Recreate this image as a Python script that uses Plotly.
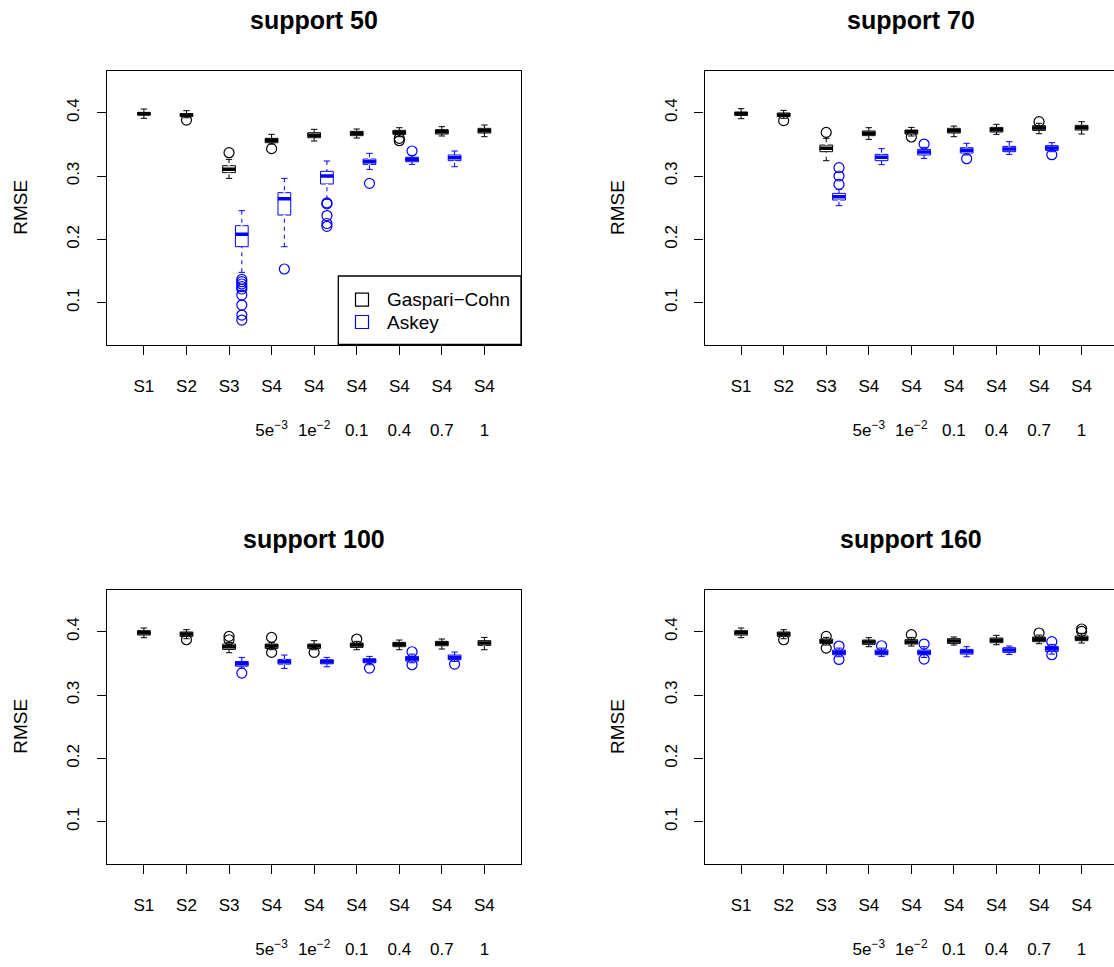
import plotly.graph_objects as go

W, H = 1114, 967

# ---------------- data ----------------
CATEGORIES = ["S1", "S2", "S3", "S4", "S4", "S4", "S4", "S4", "S4"]
SUB_LABELS = ["", "", "", "5e<sup>−3</sup>", "1e<sup>−2</sup>", "0.1", "0.4", "0.7", "1"]
GC_POS = [1, 2, 3, 4, 5, 6, 7, 8, 9]
ASKEY_POS = [3.3, 4.3, 5.3, 6.3, 7.3, 8.3]
Y_TICKS = [0.1, 0.2, 0.3, 0.4]
PANEL_TITLES = ["support 50", "support 70", "support 100", "support 160"]
LEGEND_LABELS = ["Gaspari−Cohn", "Askey"]

# support 50
GC50_LO = [0.3911, 0.3920, 0.2963, 0.3505, 0.3553, 0.3600, 0.3621, 0.3632, 0.3621]
GC50_Q1 = [0.3963, 0.3942, 0.3053, 0.3526, 0.3605, 0.3637, 0.3658, 0.3663, 0.3679]
GC50_MED = [0.3984, 0.3963, 0.3105, 0.3563, 0.3642, 0.3674, 0.3689, 0.3700, 0.3716]
GC50_Q3 = [0.4005, 0.3984, 0.3163, 0.3595, 0.3684, 0.3705, 0.3721, 0.3732, 0.3753]
GC50_HI = [0.4058, 0.4032, 0.3263, 0.3658, 0.3737, 0.3742, 0.3763, 0.3779, 0.3805]
GC50_OUT = [[], [0.3884], [0.3368], [0.3432], [], [], [0.3595, 0.3558], [], []]
AK50_LO = [0.1479, 0.1884, 0.2635, 0.3105, 0.3184, 0.3147]
AK50_Q1 = [0.1884, 0.2384, 0.2874, 0.3184, 0.3226, 0.3242]
AK50_MED = [0.2079, 0.2642, 0.3000, 0.3226, 0.3263, 0.3289]
AK50_Q3 = [0.2216, 0.2737, 0.3074, 0.3268, 0.3295, 0.3332]
AK50_HI = [0.2453, 0.2963, 0.3237, 0.3358, 0.3326, 0.3395]
AK50_OUT = [[0.1368, 0.1332, 0.1295, 0.1253, 0.1216, 0.1121, 0.0963, 0.0805, 0.0726],
            [0.1532], [0.2576, 0.2560, 0.2376, 0.2250, 0.2206], [0.2884], [0.3395], []]

# support 70
GC70_LO = [0.3905, 0.3911, 0.3242, 0.3579, 0.3632, 0.3621, 0.3658, 0.3668, 0.3663]
GC70_Q1 = [0.3958, 0.3937, 0.3384, 0.3637, 0.3663, 0.3679, 0.3695, 0.3721, 0.3726]
GC70_MED = [0.3984, 0.3963, 0.3437, 0.3674, 0.3700, 0.3716, 0.3732, 0.3758, 0.3763]
GC70_Q3 = [0.4011, 0.3995, 0.3489, 0.3711, 0.3726, 0.3753, 0.3768, 0.3795, 0.3800]
GC70_HI = [0.4063, 0.4037, 0.3595, 0.3763, 0.3768, 0.3789, 0.3816, 0.3832, 0.3858]
GC70_OUT = [[], [0.3874], [0.3689], [], [0.3616], [], [], [0.3858], []]
AK70_LO = [0.2532, 0.3179, 0.3279, 0.3332, 0.3342, 0.3384]
AK70_Q1 = [0.2621, 0.3242, 0.3332, 0.3363, 0.3384, 0.3405]
AK70_MED = [0.2674, 0.3295, 0.3379, 0.3405, 0.3426, 0.3442]
AK70_Q3 = [0.2726, 0.3342, 0.3421, 0.3447, 0.3468, 0.3479]
AK70_HI = [0.2789, 0.3432, 0.3453, 0.3516, 0.3542, 0.3526]
AK70_OUT = [[0.3132, 0.3000, 0.2868], [], [0.3505], [0.3274], [], [0.3337]]

# support 100
GC100_LO = [0.3905, 0.3889, 0.3668, 0.3715, 0.3715, 0.3715, 0.3715, 0.3726, 0.3715]
GC100_Q1 = [0.3947, 0.3926, 0.3720, 0.3736, 0.3736, 0.3752, 0.3763, 0.3778, 0.3784]
GC100_MED = [0.3984, 0.3963, 0.3763, 0.3773, 0.3773, 0.3789, 0.3800, 0.3815, 0.3821]
GC100_Q3 = [0.4016, 0.3995, 0.3805, 0.3805, 0.3805, 0.3821, 0.3831, 0.3847, 0.3858]
GC100_HI = [0.4058, 0.4032, 0.3831, 0.3831, 0.3858, 0.3847, 0.3868, 0.3884, 0.3910]
GC100_OUT = [[], [0.3873], [0.3926, 0.3873], [0.3910, 0.3673], [0.3673], [0.3884], [], [], []]
AK100_LO = [0.3425, 0.3420, 0.3446, 0.3478, 0.3509, 0.3530]
AK100_Q1 = [0.3456, 0.3488, 0.3493, 0.3509, 0.3536, 0.3557]
AK100_MED = [0.3493, 0.3525, 0.3525, 0.3541, 0.3573, 0.3594]
AK100_Q3 = [0.3530, 0.3562, 0.3557, 0.3573, 0.3610, 0.3631]
AK100_HI = [0.3594, 0.3631, 0.3594, 0.3610, 0.3646, 0.3678]
AK100_OUT = [[0.3346], [], [], [0.3425], [0.3683, 0.3478], [0.3488]]

# support 160
GC160_LO = [0.3905, 0.3889, 0.3789, 0.3763, 0.3773, 0.3789, 0.3794, 0.3810, 0.3821]
GC160_Q1 = [0.3947, 0.3926, 0.3815, 0.3800, 0.3805, 0.3815, 0.3826, 0.3842, 0.3858]
GC160_MED = [0.3984, 0.3963, 0.3847, 0.3836, 0.3836, 0.3852, 0.3863, 0.3879, 0.3894]
GC160_Q3 = [0.4016, 0.3995, 0.3884, 0.3868, 0.3873, 0.3889, 0.3900, 0.3916, 0.3931]
GC160_HI = [0.4058, 0.4032, 0.3910, 0.3905, 0.3910, 0.3916, 0.3942, 0.3947, 0.3974]
GC160_OUT = [[], [0.3873], [0.3926, 0.3741], [], [0.3953], [], [], [0.3979], [0.4042, 0.4005]]
AK160_LO = [0.3604, 0.3610, 0.3594, 0.3604, 0.3641, 0.3646]
AK160_Q1 = [0.3636, 0.3636, 0.3636, 0.3646, 0.3673, 0.3689]
AK160_MED = [0.3673, 0.3673, 0.3673, 0.3683, 0.3710, 0.3731]
AK160_Q3 = [0.3710, 0.3710, 0.3710, 0.3720, 0.3747, 0.3768]
AK160_HI = [0.3741, 0.3741, 0.3763, 0.3763, 0.3773, 0.3800]
AK160_OUT = [[0.3773, 0.3562], [0.3778], [0.3805, 0.3567], [], [], [0.3842, 0.3636]]

# ---------------- layout helpers ----------------
FONT = "Liberation Sans, Arial, Helvetica, sans-serif"
BLACK = "#000000"
BLUE = "#0000FF"
BOX_W = 0.3
X_RANGE_LO = 0.14
PPU = (521.0 - 107.3) / (9.86 - 0.14)  # pixels per x unit
Y_RANGE = [0.034, 0.4666]
PANEL_W = 413.7
PANEL_H = 274.0
TICK_FS = 17


def px(x):
    return x / W


def py(y):
    return 1 - y / H


panels = [
    dict(title=PANEL_TITLES[0], left=107.3, top=70.5,
         gc=(GC50_LO, GC50_Q1, GC50_MED, GC50_Q3, GC50_HI, GC50_OUT),
         ak=(AK50_LO, AK50_Q1, AK50_MED, AK50_Q3, AK50_HI, AK50_OUT)),
    dict(title=PANEL_TITLES[1], left=704.5, top=70.5,
         gc=(GC70_LO, GC70_Q1, GC70_MED, GC70_Q3, GC70_HI, GC70_OUT),
         ak=(AK70_LO, AK70_Q1, AK70_MED, AK70_Q3, AK70_HI, AK70_OUT)),
    dict(title=PANEL_TITLES[2], left=107.3, top=589.5,
         gc=(GC100_LO, GC100_Q1, GC100_MED, GC100_Q3, GC100_HI, GC100_OUT),
         ak=(AK100_LO, AK100_Q1, AK100_MED, AK100_Q3, AK100_HI, AK100_OUT)),
    dict(title=PANEL_TITLES[3], left=704.5, top=589.5,
         gc=(GC160_LO, GC160_Q1, GC160_MED, GC160_Q3, GC160_HI, GC160_OUT),
         ak=(AK160_LO, AK160_Q1, AK160_MED, AK160_Q3, AK160_HI, AK160_OUT)),
]

fig = go.Figure()
layout = dict(
    width=W, height=H, margin=dict(l=0, r=0, t=0, b=0),
    paper_bgcolor="white", plot_bgcolor="white",
    font=dict(family=FONT, color=BLACK, size=TICK_FS),
    showlegend=False, boxmode="overlay",
    annotations=[], shapes=[],
)

ticktext = [c if s == "" else c + "<br><br>" + s for c, s in zip(CATEGORIES, SUB_LABELS)]


def add_series(pos, stats, color, xa, ya):
    lo, q1, med, q3, hi, out = stats
    fig.add_trace(go.Box(
        x=pos, q1=q1, median=med, q3=q3, lowerfence=lo, upperfence=hi,
        width=BOX_W, whiskerwidth=0.5, boxpoints=False,
        line=dict(color=color, width=1), fillcolor="rgba(0,0,0,0)",
        xaxis=xa, yaxis=ya, hoverinfo="skip"))
    # dashed look for whiskers (white gaps drawn from the fence toward the box)
    wx, wy = [], []
    for p, a, b, c, d in zip(pos, lo, q1, q3, hi):
        wx += [p, p, None, p, p, None]
        wy += [a, b, None, d, c, None]
    fig.add_trace(go.Scatter(x=wx, y=wy, mode="lines", xaxis=xa, yaxis=ya,
                             line=dict(color="white", width=2.5, dash="0px,4px,4px,0px"),
                             hoverinfo="skip"))
    # thick median
    mx, my = [], []
    for p, m in zip(pos, med):
        mx += [p - BOX_W / 2, p + BOX_W / 2, None]
        my += [m, m, None]
    fig.add_trace(go.Scatter(x=mx, y=my, mode="lines", xaxis=xa, yaxis=ya,
                             line=dict(color=color, width=3.5), hoverinfo="skip"))
    # outliers
    ox, oy = [], []
    for p, vals in zip(pos, out):
        for v in vals:
            ox.append(p)
            oy.append(v)
    fig.add_trace(go.Scatter(x=ox, y=oy, mode="markers", xaxis=xa, yaxis=ya,
                             marker=dict(symbol="circle-open", size=10, color=color,
                                         line=dict(width=1.2, color=color)),
                             hoverinfo="skip"))


for i, p in enumerate(panels, start=1):
    sfx = "" if i == 1 else str(i)
    xa, ya = "x" + sfx, "y" + sfx
    left, top = p["left"], p["top"]
    right = left + PANEL_W
    clipped = right > W
    xr_hi = 9.86 if not clipped else X_RANGE_LO + (W - left) / PPU
    xdom = [px(left), min(1.0, px(right))]
    ydom = [py(top + PANEL_H), py(top)]
    layout["xaxis" + sfx] = dict(
        domain=xdom, range=[X_RANGE_LO, xr_hi], anchor=ya,
        tickmode="array", tickvals=GC_POS, ticktext=ticktext,
        ticks="outside", ticklen=9, tickwidth=1, tickcolor=BLACK,
        showline=True, mirror=True, linecolor=BLACK, linewidth=1.3,
        showgrid=False, zeroline=False, ticklabelstandoff=17,
        tickfont=dict(size=TICK_FS, family=FONT, color=BLACK))
    layout["yaxis" + sfx] = dict(
        domain=ydom, range=Y_RANGE, anchor=xa,
        tickmode="array", tickvals=Y_TICKS, ticktext=[f"{v:.1f}" for v in Y_TICKS],
        ticks="outside", ticklen=9, tickwidth=1, tickcolor=BLACK, tickangle=-90,
        showline=True, mirror=(not clipped), linecolor=BLACK, linewidth=1.3,
        showgrid=False, zeroline=False, ticklabelstandoff=11,
        tickfont=dict(size=TICK_FS, family=FONT, color=BLACK))
    add_series(GC_POS, p["gc"], BLACK, xa, ya)
    add_series(ASKEY_POS, p["ak"], BLUE, xa, ya)
    # title
    layout["annotations"].append(dict(
        text="<b>" + p["title"] + "</b>", x=px(left + PANEL_W / 2), y=py(top - 50.5),
        xref="paper", yref="paper", xanchor="center", yanchor="middle",
        showarrow=False, font=dict(size=25, family=FONT, color=BLACK)))
    # y label
    layout["annotations"].append(dict(
        text="RMSE", x=px(left - 87), y=py(top + PANEL_H / 2), textangle=-90,
        xref="paper", yref="paper", xanchor="center", yanchor="middle",
        showarrow=False, font=dict(size=19, family=FONT, color=BLACK)))

# legend (bottom-right of first panel)
lg_l, lg_t, lg_r, lg_b = 338.3, 276.0, 107.3 + PANEL_W, 70.5 + PANEL_H
layout["shapes"].append(dict(type="rect", xref="paper", yref="paper",
                             x0=px(lg_l), x1=px(lg_r), y0=py(lg_b), y1=py(lg_t),
                             line=dict(color=BLACK, width=1.3), fillcolor="white", layer="above"))
for k, (lab, col, cy) in enumerate(zip(LEGEND_LABELS, [BLACK, BLUE], [299.7, 322.0])):
    layout["shapes"].append(dict(type="rect", xref="paper", yref="paper",
                                 x0=px(355.5), x1=px(368.5), y0=py(cy + 6.5), y1=py(cy - 6.5),
                                 line=dict(color=col, width=1.2), layer="above"))
    layout["annotations"].append(dict(
        text=lab, x=px(385), y=py(cy), xref="paper", yref="paper",
        xanchor="left", yanchor="middle", showarrow=False,
        font=dict(size=19, family=FONT, color=BLACK)))

fig.update_layout(**layout)
fig.write_html("out.html")
